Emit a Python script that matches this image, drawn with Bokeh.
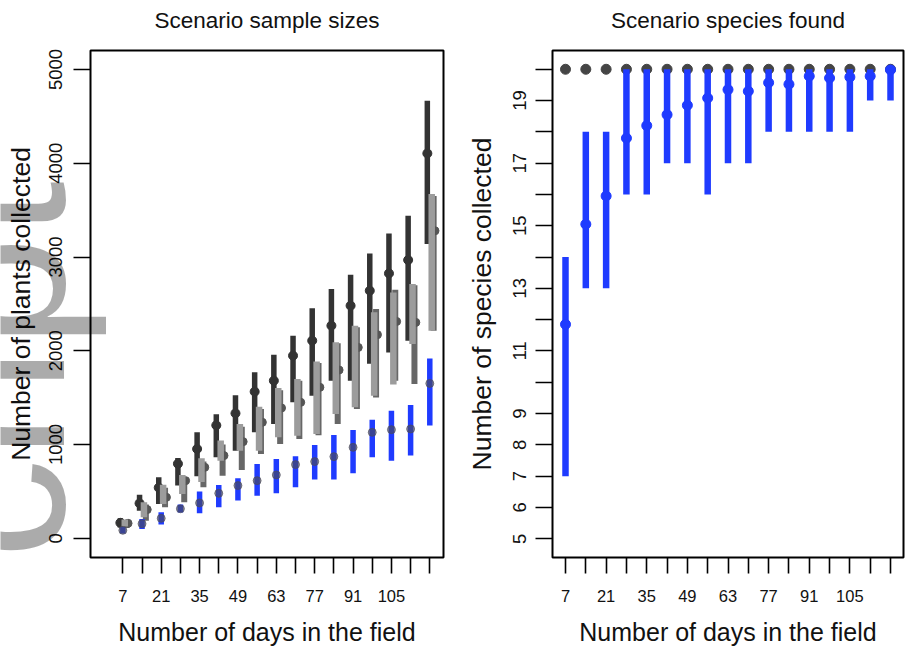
import math
from bokeh.plotting import figure
from bokeh.layouts import row
from bokeh.models import Range1d, FixedTicker, ColumnDataSource, Label, LinearAxis
from bokeh.transform import dodge
from bokeh.embed import file_html
from bokeh.resources import INLINE

# ---------------- data ----------------
days = [7, 14, 21, 28, 35, 42, 49, 56, 63, 70, 77, 84, 91, 98, 105, 112, 119]
x_tick_labels = ["7", "", "21", "", "35", "", "49", "", "63", "", "77", "", "91", "", "105", "", ""]

# scenario 1 (black)
s1_mean = [165, 373, 540, 795, 953, 1205, 1333, 1564, 1681, 1948, 2108, 2268, 2481, 2641, 2825, 2968, 4105]
s1_low = [115, 295, 367, 562, 661, 864, 935, 1130, 1219, 1450, 1521, 1681, 1681, 1862, 1983, 2108, 3140]
s1_high = [215, 465, 650, 857, 1130, 1322, 1525, 1770, 1958, 2161, 2455, 2659, 2811, 3039, 3252, 3440, 4666]
# scenario 2 (dark grey)
s2_mean = [160, 306, 437, 615, 757, 882, 1031, 1237, 1390, 1450, 1610, 1795, 2036, 2172, 2313, 2303, 3280]
s2_low = [110, 188, 330, 384, 544, 668, 729, 900, 1006, 1060, 1100, 1219, 1380, 1503, 1681, 1646, 2213]
s2_high = [190, 360, 540, 650, 820, 1000, 1190, 1380, 1580, 1680, 1870, 2080, 2250, 2446, 2650, 2700, 3650]
# scenario 3 (light grey)
s3_low = [125, 224, 367, 473, 600, 828, 935, 935, 1077, 1095, 1113, 1326, 1397, 1520, 1640, 2072, 2213]
s3_high = [200, 384, 572, 676, 853, 1042, 1219, 1404, 1603, 1699, 1887, 2090, 2268, 2410, 2623, 2712, 3672]
# scenario 4 (blue)
s4_mean = [85, 155, 213, 315, 377, 480, 562, 615, 676, 786, 818, 871, 970, 1130, 1159, 1166, 1652]
s4_low = [50, 100, 146, 275, 267, 330, 402, 455, 480, 544, 626, 626, 693, 864, 828, 882, 1202]
s4_high = [120, 207, 277, 360, 498, 569, 640, 793, 846, 874, 996, 1102, 1156, 1265, 1361, 1422, 1919]

plant_ticks = [0, 1000, 2000, 3000, 4000, 5000]

# species found
all_species = [20, 20, 20, 20, 20, 20, 20, 20, 20, 20, 20, 20, 20, 20, 20, 20, 20]
sp_mean = [11.85, 15.05, 15.95, 17.8, 18.2, 18.55, 18.85, 19.08, 19.35, 19.3, 19.57, 19.52, 19.78, 19.72, 19.75, 19.78, 19.98]
sp_low = [7, 13, 13, 16, 16, 17, 17, 16, 17, 17, 18, 18, 18, 18, 18, 19, 19]
sp_high = [14, 18, 18, 20, 20, 20, 20, 20, 20, 20, 20, 20, 20, 20, 20, 20, 20]
species_ticks = [5, 6, 7, 8, 9, 10, 11, 12, 13, 14, 15, 16, 17, 18, 19, 20]
species_labels = ["5", "6", "7", "8", "9", "", "11", "", "13", "", "15", "", "17", "", "19", ""]

FONT = "Liberation Sans"
BLACK = "#333333"
DARK = "#676767"
LIGHT = "#9c9c9c"
BLUE = "#1f3bff"

src = ColumnDataSource(dict(
    days=days,
    s1_mean=s1_mean, s1_low=s1_low, s1_high=s1_high,
    s2_mean=s2_mean, s2_low=s2_low, s2_high=s2_high,
    s3_low=s3_low, s3_high=s3_high,
    s4_mean=s4_mean, s4_low=s4_low, s4_high=s4_high,
    all_species=all_species, sp_mean=sp_mean, sp_low=sp_low, sp_high=sp_high,
))


def style(p, title, xlabel, ylabel, yticks, ylabels, ystand, ylab_stand):
    p.xgrid.visible = False
    p.ygrid.visible = False
    p.outline_line_color = "black"
    p.outline_line_width = 2
    p.background_fill_color = "white"
    p.border_fill_color = "white"
    xa = p.below[0]
    ya = p.left[0]
    for ax in (xa, ya):
        ax.axis_line_color = None
        ax.major_tick_in = 0
        ax.major_tick_line_color = "black"
        ax.major_tick_line_width = 1.6
        ax.minor_tick_line_color = None
        ax.major_label_text_font = FONT
        ax.major_label_text_color = "#111111"
        ax.axis_label_text_font = FONT
        ax.axis_label_text_font_style = "normal"
        ax.axis_label_text_color = "#111111"
    xa.ticker = FixedTicker(ticks=days)
    xa.major_label_overrides = {d: l for d, l in zip(days, x_tick_labels)}
    xa.major_tick_out = 16
    xa.major_label_text_font_size = "16.5px"
    xa.major_label_standoff = 16
    xa.axis_label = xlabel
    xa.axis_label_text_font_size = "25px"
    xa.axis_label_standoff = 13
    ya.ticker = FixedTicker(ticks=yticks)
    ya.major_label_overrides = {t: l for t, l in zip(yticks, ylabels)}
    ya.major_tick_out = 17
    ya.major_label_orientation = "vertical"
    ya.major_label_text_font_size = "18.5px"
    ya.major_label_standoff = ystand
    ya.axis_label = ylabel
    ya.axis_label_text_font_size = "26.5px"
    ya.axis_label_standoff = ylab_stand
    # title drawn as the label of a tick-less axis above the frame
    top = LinearAxis(ticker=FixedTicker(ticks=[]), axis_line_color=None,
                     major_tick_line_color=None, minor_tick_line_color=None,
                     major_label_text_font_size="1px", major_label_standoff=0,
                     axis_label=title, axis_label_text_font=FONT,
                     axis_label_text_font_size="22.5px", axis_label_text_font_style="normal",
                     axis_label_text_color="#111111", axis_label_standoff=18)
    p.add_layout(top, "above")


# ---------------- left panel ----------------
p1 = figure(width=460, height=648, x_range=Range1d(-4.8, 124.0), y_range=Range1d(-205, 5203),
            output_backend="svg", toolbar_location=None,
            min_border_left=90, min_border_right=17, min_border_top=50, min_border_bottom=91)
style(p1, "Scenario sample sizes", "Number of days in the field", "Number of plants collected",
      plant_ticks, [str(t) for t in plant_ticks], 12, 10)

x1 = dodge("days", -0.9)
x2 = dodge("days", 1.4)
x2d = dodge("days", 1.9)
x3 = dodge("days", 0.7)
p1.segment(x0=x1, y0="s1_low", x1=x1, y1="s1_high", source=src, line_color=BLACK,
           line_width=5.5, line_cap="butt")
p1.scatter(x=x1, y="s1_mean", source=src, size=9, color=BLACK)
p1.segment(x0=x2, y0="s2_low", x1=x2, y1="s2_high", source=src, line_color=DARK,
           line_width=6, line_cap="butt")
p1.scatter(x=x2d, y="s2_mean", source=src, size=8, color="#555555")
p1.segment(x0=x3, y0="s3_low", x1=x3, y1="s3_high", source=src, line_color=LIGHT,
           line_width=6.5, line_cap="butt")
p1.segment(x0="days", y0="s4_low", x1="days", y1="s4_high", source=src, line_color=BLUE,
           line_width=5.5, line_cap="butt")
p1.scatter(x="days", y="s4_mean", source=src, size=8, color="#4a4a5a", alpha=0.65)

# ---------------- right panel ----------------
p2 = figure(width=447, height=648, x_range=Range1d(2.52, 123.48), y_range=Range1d(4.4, 20.6),
            output_backend="svg", toolbar_location=None,
            min_border_left=92, min_border_right=4, min_border_top=50, min_border_bottom=91)
style(p2, "Scenario species found", "Number of days in the field", "Number of species collected",
      species_ticks, species_labels, 9, 14)

p2.scatter(x="days", y="all_species", source=src, size=10, color="#454545")
p2.segment(x0="days", y0="sp_low", x1="days", y1="sp_high", source=src, line_color=BLUE,
           line_width=6.5, line_cap="butt")
p2.scatter(x="days", y="sp_mean", source=src, size=10, color=BLUE)

# ---------------- transparent overlay (pulled back over the left panel) ----------------
ov = figure(width=460, height=648, x_range=Range1d(0, 460), y_range=Range1d(0, 648),
            x_axis_type=None, y_axis_type=None, output_backend="svg", toolbar_location=None,
            min_border=0, min_border_left=0, min_border_right=0, min_border_top=0,
            min_border_bottom=0, outline_line_color=None,
            background_fill_alpha=0, border_fill_alpha=0)
ov.xgrid.visible = False
ov.ygrid.visible = False
ov.margin = (0, 0, 0, -460)
wm = Label(x=-6, y=176, text="script", angle=math.pi / 2, text_font=FONT,
           text_font_size="200px", text_color="black", text_alpha=0.33,
           text_align="center", text_baseline="middle")
ov.add_layout(wm)

layout = row(p1, ov, p2)
open("out.html", "w").write(file_html(layout, INLINE))
